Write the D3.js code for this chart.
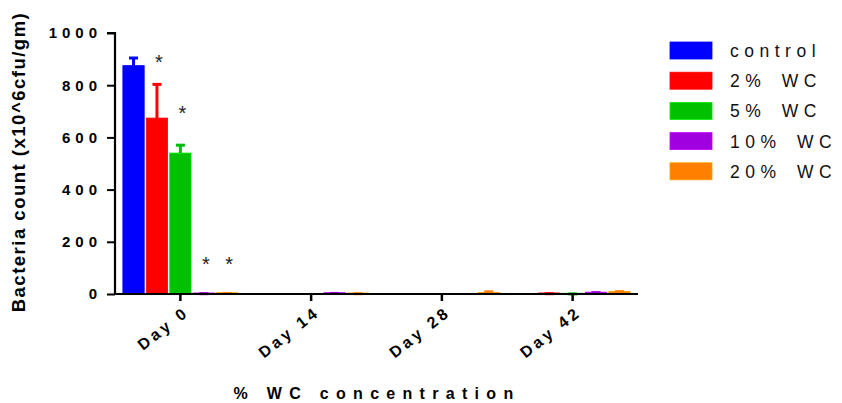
<!DOCTYPE html>
<html><head><meta charset="utf-8">
<script src="https://cdn.jsdelivr.net/npm/d3@7"></script>
<style>
body{margin:0;background:#fff;}
text{font-family:"Liberation Sans",Arial,sans-serif;}
</style></head>
<body><svg id="chart" width="842" height="403"></svg>
<script>
const days = ["Day 0","Day 14","Day 28","Day 42"];
const seriesNames = ["control","2% WC","5% WC","10% WC","20% WC"];
const colors = ["#0000ff","#ff0000","#00c000","#a000e0","#ff8000"];
// mean values per series, one per day
const control = [875, 0, 0, 0];
const wc2 = [674, 0, 0, 4];
const wc5 = [540, 0, 0, 3];
const wc10 = [4, 5, 0, 7];
const wc20 = [5, 4, 6, 10];
// upper error (SD) per series, one per day
const control_err = [33, 0, 0, 0];
const wc2_err = [133, 0, 0, 1];
const wc5_err = [34, 0, 0, 1];
const wc10_err = [1, 1, 0, 2];
const wc20_err = [1, 1, 6, 3];
// significance stars: [day, series, value level]
const stars = [["Day 0","2% WC",900],["Day 0","5% WC",705],["Day 0","10% WC",128],["Day 0","20% WC",128]];
const yTicks = [0,200,400,600,800,1000];

(function(){
const values = [control,wc2,wc5,wc10,wc20];
const errs = [control_err,wc2_err,wc5_err,wc10_err,wc20_err];

const svg = d3.select("#chart");
const pl=115, pr=638, pt=33, pb=294;
const x0 = d3.scaleBand().domain(days).range([pl,pr]).padding(0);
const x1 = d3.scaleBand().domain(seriesNames)
  .range([(x0.bandwidth()-115)/2,(x0.bandwidth()+115)/2]).paddingInner(0.09).paddingOuter(0);
const y = d3.scaleLinear().domain([0,1000]).range([pb,pt]);

const data=[];
seriesNames.forEach((s,i)=>days.forEach((d,j)=>data.push({day:d,s:s,i:i,v:values[i][j],e:errs[i][j]})));

const g = svg.append("g");
g.selectAll("rect.bar").data(data.filter(d=>d.v>0)).join("rect")
  .attr("x",d=>x0(d.day)+x1(d.s))
  .attr("y",d=>y(d.v))
  .attr("width",x1.bandwidth())
  .attr("height",d=>y(0)-y(d.v))
  .attr("fill",d=>colors[d.i])
  .attr("stroke",d=>d3.color(colors[d.i]).brighter(0.6))
  .attr("stroke-width",0.8);

const eb = g.selectAll("g.err").data(data.filter(d=>d.e>0)).join("g").attr("class","err");
eb.append("line")
  .attr("x1",d=>x0(d.day)+x1(d.s)+x1.bandwidth()/2)
  .attr("x2",d=>x0(d.day)+x1(d.s)+x1.bandwidth()/2)
  .attr("y1",d=>y(d.v))
  .attr("y2",d=>y(d.v+d.e))
  .attr("stroke",d=>colors[d.i]).attr("stroke-width",3);
eb.append("line")
  .attr("x1",d=>x0(d.day)+x1(d.s)+x1.bandwidth()/2-4.5)
  .attr("x2",d=>x0(d.day)+x1(d.s)+x1.bandwidth()/2+4.5)
  .attr("y1",d=>y(d.v+d.e)+1)
  .attr("y2",d=>y(d.v+d.e)+1)
  .attr("stroke",d=>colors[d.i]).attr("stroke-width",3);

g.selectAll("text.star").data(stars).join("text")
  .attr("x",d=>x0(d[0])+x1(d[1])+x1.bandwidth()/2+2)
  .attr("y",d=>y(d[2])+10)
  .attr("text-anchor","middle")
  .attr("font-size",20).attr("fill","#222")
  .text("*");

const yAxis = svg.append("g").attr("transform",`translate(${pl},0)`)
  .call(d3.axisLeft(y).tickValues(yTicks).tickSize(8).tickPadding(5).tickFormat(d3.format("d")));
yAxis.select(".domain").attr("stroke","#000").attr("stroke-width",2.2).attr("d",`M-8,${pt}H0V${pb}`);
yAxis.selectAll(".tick line").attr("stroke","#000").attr("stroke-width",2);
yAxis.selectAll(".tick text").attr("font-size",15).attr("font-weight","bold")
  .attr("letter-spacing","5px").attr("fill","#000")
  .attr("font-family","'Liberation Sans',Arial,sans-serif");

const xAxis = svg.append("g").attr("transform",`translate(0,${pb})`)
  .call(d3.axisBottom(x0).tickSize(7).tickPadding(4));
xAxis.select(".domain").attr("stroke","#000").attr("stroke-width",2.2).attr("d",`M${pl-1},0H${pr}`);
xAxis.selectAll(".tick line").attr("stroke","#000").attr("stroke-width",2.5);
xAxis.selectAll(".tick text")
  .attr("font-size",16).attr("font-weight","bold").attr("letter-spacing","3.5px").attr("fill","#000")
  .attr("font-family","'Liberation Sans',Arial,sans-serif")
  .attr("text-anchor","end").attr("dy",null).attr("y",null)
  .attr("transform","translate(10,20) rotate(-38)");

svg.append("text")
  .attr("transform","translate(25,162) rotate(-90)")
  .attr("text-anchor","middle")
  .attr("font-size",18.5).attr("font-weight","bold").attr("letter-spacing","1.5px")
  .text("Bacteria count (x10^6cfu/gm)");
svg.append("text")
  .attr("x",377).attr("y",399)
  .attr("text-anchor","middle")
  .attr("font-size",16).attr("font-weight","bold").attr("letter-spacing","7.3px")
  .text("% WC concentration");

const lg = svg.append("g").selectAll("g").data(seriesNames).join("g")
  .attr("transform",(d,i)=>`translate(670,${42+i*30.2})`);
lg.append("rect").attr("width",42).attr("height",17)
  .attr("fill",(d,i)=>colors[i]).attr("stroke",(d,i)=>d3.color(colors[i]).brighter(0.6)).attr("stroke-width",0.8);
lg.append("text").attr("x",60).attr("y",15)
  .attr("font-size",17.5).attr("letter-spacing","5.5px").attr("word-spacing","5px").attr("fill","#111")
  .text(d=>d);
})();
</script></body></html>
